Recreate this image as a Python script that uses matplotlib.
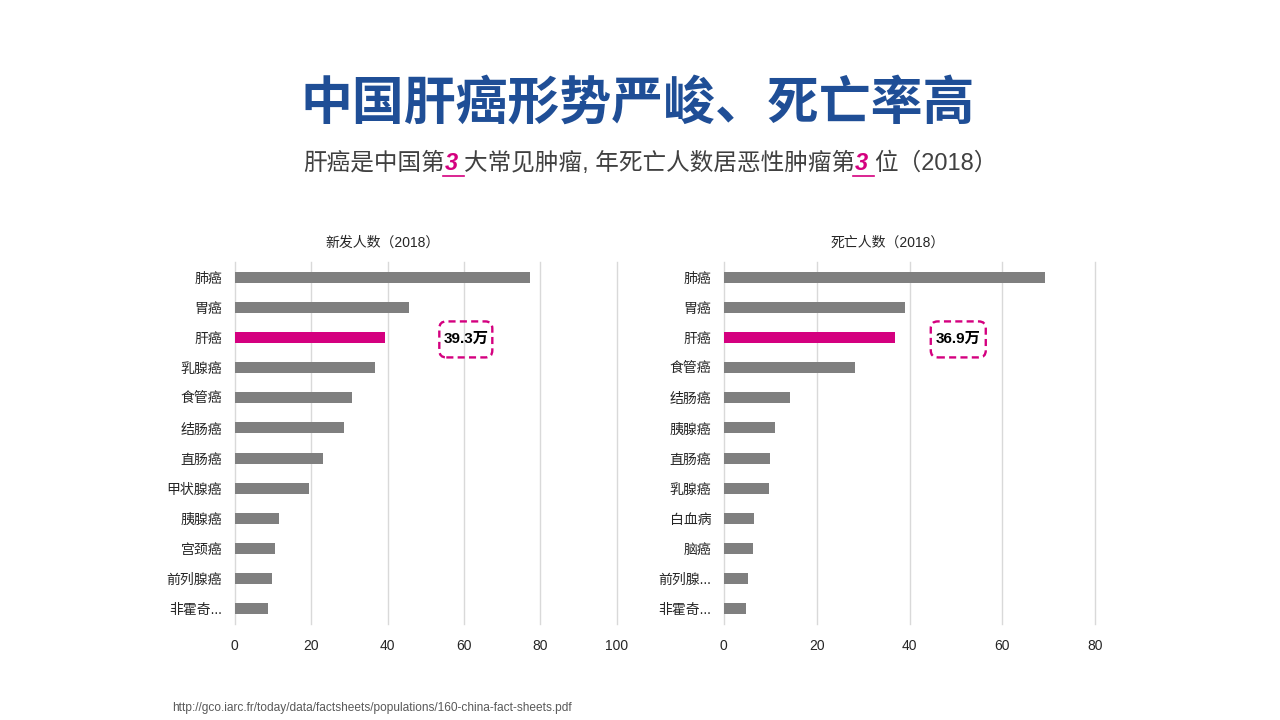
import matplotlib
matplotlib.use("Agg")
import matplotlib.pyplot as plt
from matplotlib.patches import FancyBboxPatch

plt.rcParams['font.family'] = ['Liberation Sans', 'Noto Sans CJK SC', 'DejaVu Sans']

# ---------------- data ----------------
new_categories = ["肺癌", "胃癌", "肝癌", "乳腺癌", "食管癌", "结肠癌", "直肠癌",
                  "甲状腺癌", "胰腺癌", "宫颈癌", "前列腺癌", "非霍奇..."]
new_values = [77.4, 45.6, 39.3, 36.7, 30.7, 28.6, 23.1, 19.4, 11.6, 10.6, 9.8, 8.8]

death_categories = ["肺癌", "胃癌", "肝癌", "食管癌", "结肠癌", "胰腺癌", "直肠癌",
                    "乳腺癌", "白血病", "脑癌", "前列腺...", "非霍奇..."]
death_values = [69.1, 39.0, 36.9, 28.3, 14.3, 11.1, 9.9, 9.8, 6.5, 6.3, 5.2, 4.8]

new_ticks = [0, 20, 40, 60, 80, 100]
death_ticks = [0, 20, 40, 60, 80]

highlight = "肝癌"
new_label = "39.3万"
death_label = "36.9万"

title = "中国肝癌形势严峻、死亡率高"
subtitle_parts = ["肝癌是中国第", "3", " ", "大常见肿瘤, 年死亡人数居恶性肿瘤第", "3", " ", "位（2018）"]
new_title = "新发人数（2018）"
death_title = "死亡人数（2018）"
source = "http://gco.iarc.fr/today/data/factsheets/populations/160-china-fact-sheets.pdf"

# ---------------- style ----------------
GREY = "#7f7f7f"
MAGENTA = "#d4007f"
BLUE = "#1f4e96"
GRID = "#d9d9d9"
TXT = "#262626"

W, H = 1280, 720
fig = plt.figure(figsize=(12.8, 7.2), dpi=100)


def px_axes(x0, x1, y0, y1):
    return fig.add_axes([x0 / W, 1 - y1 / H, (x1 - x0) / W, (y1 - y0) / H])


def draw_panel(ax, cats, vals, ticks, xmax, label, label_x, box_w):
    ypos = list(range(len(cats)))
    colors = [MAGENTA if c == highlight else GREY for c in cats]
    ax.barh(ypos, vals, height=0.37, color=colors, zorder=3)
    ax.set_ylim(len(cats) - 0.5, -0.5)
    ax.set_xlim(0, xmax)
    ax.set_xticks(ticks)
    ax.set_yticks(ypos)
    ax.set_yticklabels(cats)
    ax.tick_params(axis='both', length=0, labelsize=10, colors=TXT)
    ax.tick_params(axis='x', pad=11)
    ax.tick_params(axis='y', pad=9)
    for s in ax.spines.values():
        s.set_visible(False)
    ax.grid(axis='x', color=GRID, linewidth=1, zorder=0)
    for gl in ax.get_xgridlines():
        gl.set_clip_on(False)
    ax.set_axisbelow(True)
    hi = cats.index(highlight)
    ax.text(label_x, hi + 0.06, label, ha='center', va='center', fontsize=11,
            fontweight='bold', color='black', zorder=6)
    cx, cy = ax.transData.transform((label_x, hi))
    cy -= 2
    bh = 36
    box = FancyBboxPatch((cx - box_w / 2, cy - bh / 2), box_w, bh,
                         boxstyle='round,pad=0,rounding_size=7', transform=None,
                         fc='none', ec=MAGENTA, lw=1.7, ls=(0, (3, 1.8)), zorder=5)
    fig.add_artist(box)


ax1 = px_axes(234.7, 616.7, 262, 624)
draw_panel(ax1, new_categories, new_values, new_ticks, 100, new_label, 60.5, 53)

ax2 = px_axes(723.7, 1095.3, 262, 624)
draw_panel(ax2, death_categories, death_values, death_ticks, 80, death_label, 50.5, 55)

# panel titles
fig.text(383 / W, 1 - 243 / H, new_title, ha='center', va='center', fontsize=10, color=TXT)
fig.text(888 / W, 1 - 243 / H, death_title, ha='center', va='center', fontsize=10, color=TXT)

# main title
fig.text(638 / W, 1 - 103 / H, title, ha='center', va='center', fontsize=37.4,
         fontweight='black', color=BLUE, family=['Noto Sans CJK SC'])

# subtitle built from pieces
renderer = fig.canvas.get_renderer()
styles = []
for p in subtitle_parts:
    if p.strip() == "3":
        styles.append(dict(color=MAGENTA, fontweight='bold', fontstyle='italic'))
    else:
        styles.append(dict(color="#404040"))
texts = []
for p, st in zip(subtitle_parts, styles):
    t = fig.text(0, 1 - 163 / H, p, ha='left', va='center', fontsize=17.0, **st)
    texts.append(t)
widths = [t.get_window_extent(renderer).width for t in texts]
for i, p in enumerate(subtitle_parts):
    if p == " ":
        widths[i] = 6
total = sum(widths)
x = 650.5 - total / 2
starts = []
for t, w in zip(texts, widths):
    t.set_x(x / W)
    starts.append(x)
    x += w
for i, p in enumerate(subtitle_parts):
    if p.strip() == "3":
        x0 = starts[i] - 2
        x1 = starts[i] + widths[i] + widths[i + 1]
        fig.add_artist(plt.Line2D([x0 / W, x1 / W], [1 - 176 / H, 1 - 176 / H],
                                  color=MAGENTA, lw=1.2))

# source
fig.text(172 / W, 1 - 708 / H, source, ha='left', va='center', fontsize=8.6, color="#595959")

fig.savefig("out.png", dpi=100, facecolor='white')
